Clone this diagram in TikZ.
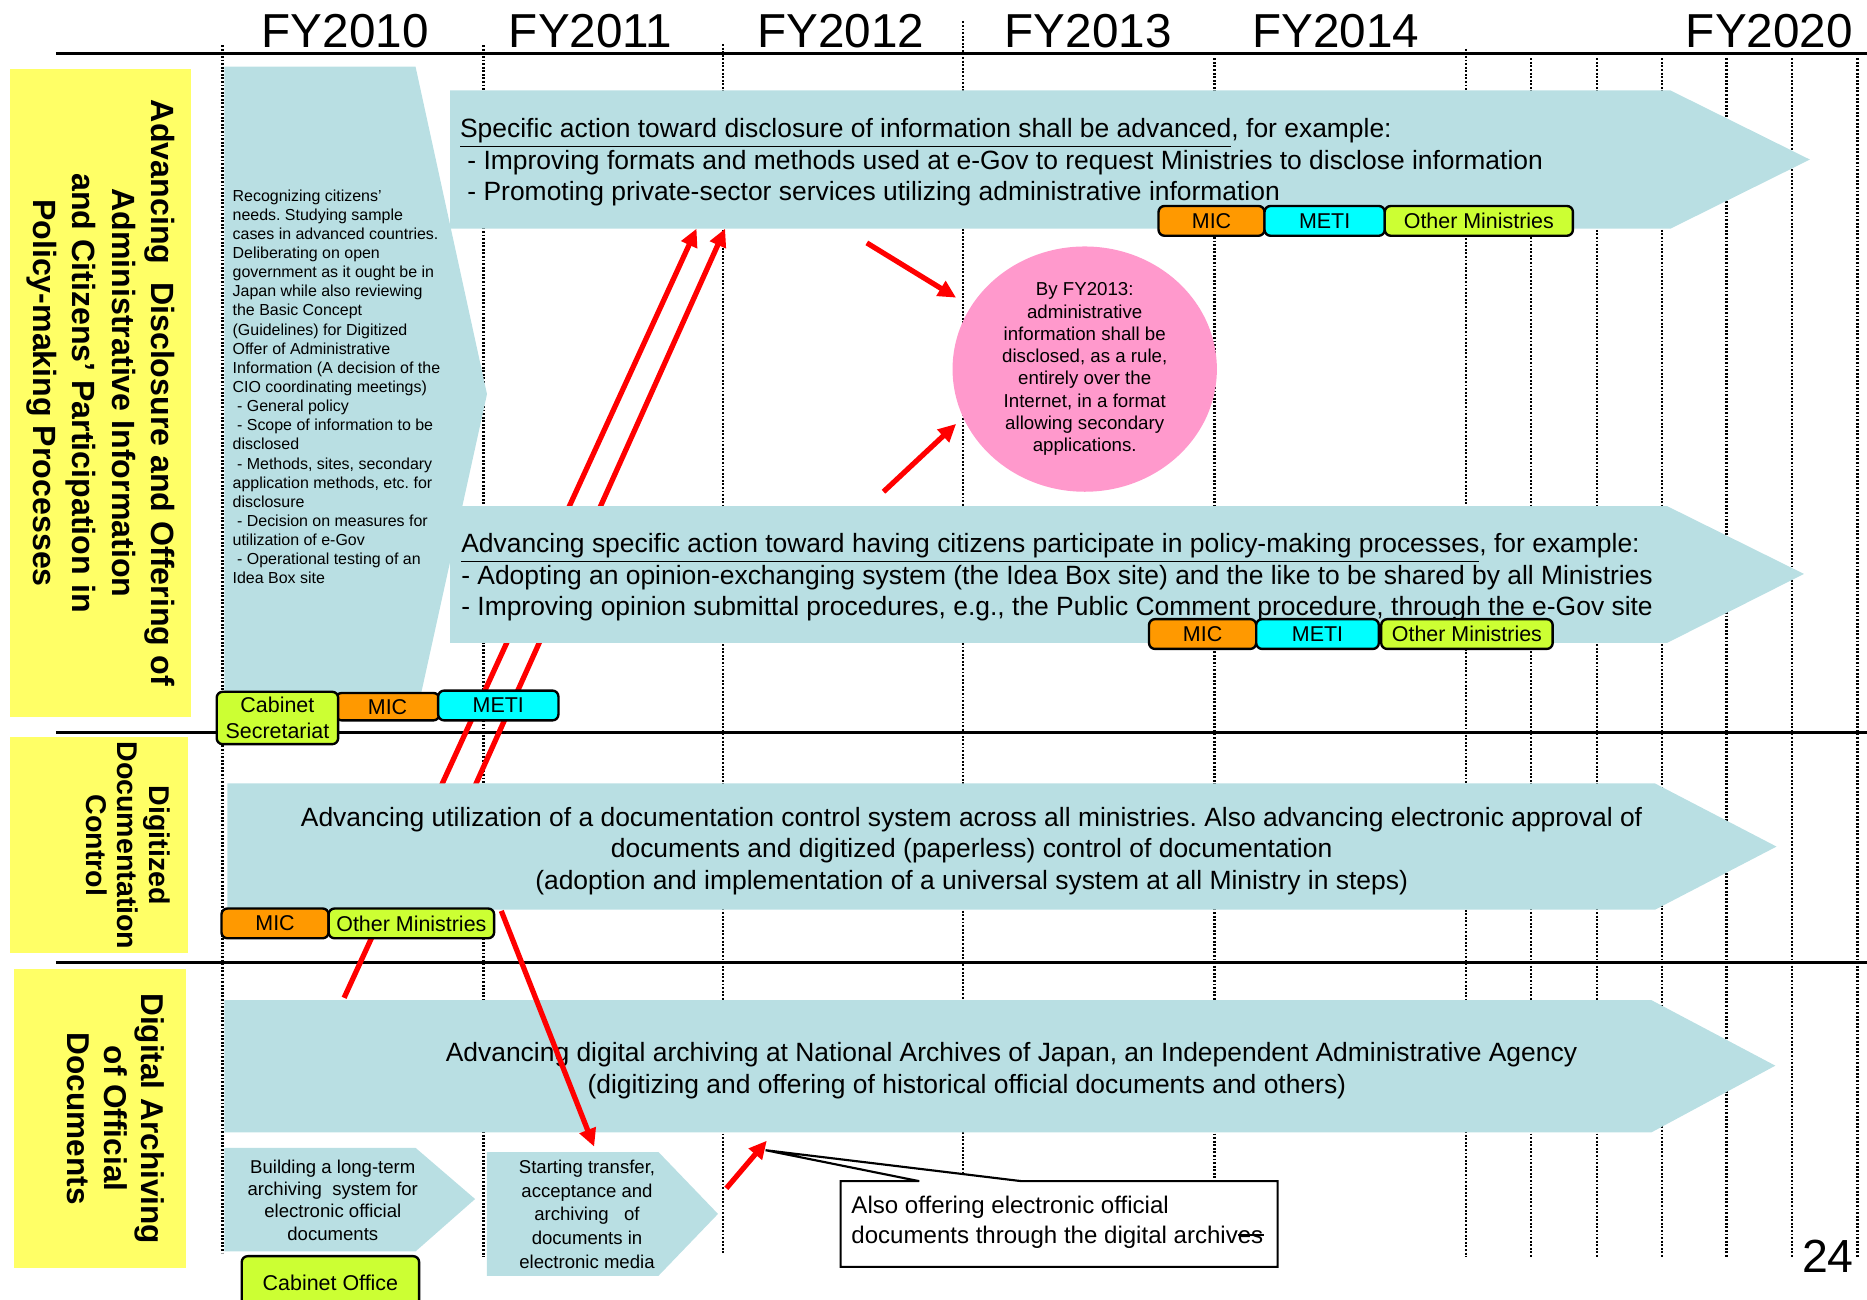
\documentclass[tikz,border=0pt]{standalone}
\usepackage{fontspec}
\setmainfont{Liberation Sans}
\usetikzlibrary{arrows.meta,shapes.geometric}
\frenchspacing

\definecolor{panel}{RGB}{185,223,227}
\definecolor{labelyellow}{RGB}{255,255,102}
\definecolor{tagorange}{RGB}{255,153,0}
\definecolor{tagcyan}{RGB}{0,255,255}
\definecolor{taglime}{RGB}{204,255,51}
\definecolor{bubble}{RGB}{255,153,204}
\definecolor{linkred}{RGB}{255,0,0}

\newcommand\fsz[2]{\fontsize{#1}{#2}\selectfont}

\tikzset{
  grid line/.style={line width=1pt, dash pattern=on 0.8pt off 0.7pt},
  rule line/.style={line width=1.4pt},
  link/.style={draw=linkred, line width=2.2pt, -{Triangle[length=7.5pt,width=7pt]}},
  panel fill/.style={fill=panel},
  block fill/.style={fill=labelyellow},
  tagbox/.style={draw=black, line width=1pt, rounded corners=2.5pt, inner sep=0pt,
    align=center, font=\fsz{9}{11}},
  side title/.style={rotate=-90, align=center, inner sep=0pt, font=\bfseries\fsz{13.5}{16.5}},
  year/.style={anchor=base, inner sep=0pt, font=\fsz{20}{24}},
  panel text/.style={inner sep=0pt, font=\fsz{11.1}{13.25}},
  note text/.style={inner sep=0pt, align=left, anchor=north west, font=\fsz{6.7}{8.04}},
  stage text/.style={inner sep=0pt, align=center, anchor=north, font=\fsz{7.8}{9.4}},
  goal/.style={ellipse, fill=bubble, inner sep=0pt, align=center, minimum width=111pt,
    minimum height=103pt, font=\fsz{7.85}{9.35}},
  callout/.style={draw=black, fill=white, line width=0.9pt},
}

% ministry tag: name, x1, y1, x2, y2, colour, text
\newcommand\mktag[7]{%
  \node[tagbox, fill=#6, minimum width={(#4-#2)*0.5pt}, minimum height={(#5-#3)*0.5pt}]
    (#1) at ({(#2+#4)/2},{(#3+#5)/2}) {#7};}

\begin{document}
\begin{tikzpicture}[x=0.5pt,y=-0.5pt]
\useasboundingbox (0,0) rectangle (1568,1091);
\clip (0,0) rectangle (1568,1091);

% fiscal-year grid
\foreach \gx/\gtop/\gbot in {187/38/1052, 406/38/1056, 607/37/1052, 809/18/1050,
    1020/49/1050, 1231/41/1056, 1286/49/1056, 1341/49/1056, 1396/49/1056,
    1450/49/1056, 1505/49/1056, 1560/49/1056}
  \draw[grid line] (\gx,\gtop) -- (\gx,\gbot);

% section rules
\draw[rule line] (47,45) -- (1568,45);
\draw[rule line] (47,615) -- (1568,615);
\draw[rule line] (47,808.5) -- (1568,808.5);

% year headings
\node[year] (fy10) at (290,40) {FY2010};
\node[year] (fy11) at (496,40) {FY2011};
\node[year] (fy12) at (706,40) {FY2012};
\node[year] (fy13) at (914,40) {FY2013};
\node[year] (fy14) at (1122,40) {FY2014};
\node[year] (fy20) at (1486,40) {FY2020};

% links that run behind the panels
\coordinate (l1s) at (289,838);  \coordinate (l1e) at (585,192);
\coordinate (l2s) at (381,700);  \coordinate (l2e) at (609,192);
\draw[link] (l1s) -- (l1e);
\draw[link] (l2s) -- (l2e);

% side labels
\fill[block fill] (8,58) rectangle (160,602);
\fill[block fill] (8,619) rectangle (158,800);
\fill[block fill] (12,814) rectangle (156,1065);
\node[side title] (title1) at (84.5,330)
  {Advancing\ \ Disclosure and Offering of\\Administrative Information\\and Citizens’ Participation in\\Policy-making Processes};
\node[side title, font=\bfseries\fsz{12}{13.25}] (title2) at (107.5,710)
  {Digitized\\Documentation\\Control};
\node[side title, font=\bfseries\fsz{13.25}{15.5}] (title3) at (97.5,939.5)
  {Digital Archiving\\of Official\\Documents};

% panels
\fill[panel fill] (188.5,56) -- (349,56) -- (409,331) -- (352,590) -- (188.5,590) -- cycle;
\fill[panel fill] (378,76) -- (1403,76) -- (1520,134) -- (1403,192) -- (378,192) -- cycle;
\fill[panel fill] (378,425) -- (1400,425) -- (1515,482) -- (1400,540) -- (378,540) -- cycle;
\fill[panel fill] (191,658) -- (1390,658) -- (1492,711) -- (1390,764) -- (191,764) -- cycle;
\fill[panel fill] (188.5,840) -- (1387,840) -- (1491,895) -- (1387,951) -- (188.5,951) -- cycle;
\fill[panel fill] (188.5,964) -- (349,964) -- (399,1007) -- (349,1051) -- (188.5,1051) -- cycle;
\fill[panel fill] (409,967.5) -- (553,967.5) -- (603,1019.5) -- (553,1071.5) -- (409,1071.5) -- cycle;

% panel texts
\node[note text] (study) at (195,158.7)
  {Recognizing citizens’\\needs. Studying sample\\cases in advanced countries.\\Deliberating on open\\government as it ought be in\\Japan while also reviewing\\the Basic Concept\\(Guidelines) for Digitized\\Offer of Administrative\\Information (A decision of the\\CIO coordinating meetings)\\\hspace*{.28em}- General policy\\\hspace*{.28em}- Scope of information to be\\disclosed\\\hspace*{.28em}- Methods, sites, secondary\\application methods, etc. for\\disclosure\\\hspace*{.28em}- Decision on measures for\\utilization of e-Gov\\\hspace*{.28em}- Operational testing of an\\Idea Box site};

\node[panel text, align=left, anchor=north west] (disclosure) at (386,99)
  {\underline{Specific action toward disclosure of information shall be advanced}, for example:\\\hspace*{.28em}- Improving formats and methods used at e-Gov to request Ministries to disclose information\\\hspace*{.28em}- Promoting private-sector services utilizing administrative information};

\node[panel text, align=left, anchor=north west] (participation) at (387,447.5)
  {\underline{Advancing specific action toward having citizens participate in policy-making processes}, for example:\\- Adopting an opinion-exchanging system (the Idea Box site) and the like to be shared by all Ministries\\- Improving opinion submittal procedures, e.g., the Public Comment procedure, through the e-Gov site};

\node[panel text, align=center, anchor=north] (documents) at (816,677.5)
  {Advancing utilization of a documentation control system across all ministries. Also advancing electronic approval of\\documents and digitized (paperless) control of documentation\\(adoption and implementation of a universal system at all Ministry in steps)};

\node[panel text, anchor=base] (archive1) at (849.5,891.7)
  {Advancing digital archiving at National Archives of Japan, an Independent Administrative Agency};
\node[panel text, anchor=base] (archive2) at (812,918.7)
  {(digitizing and offering of historical official documents and others)};

\node[stage text] (stage1) at (279.5,973.6)
  {Building a long-term\\archiving\ \ system for\\electronic official\\documents};
\node[stage text, font=\fsz{7.8}{10}] (stage2) at (493,973.6)
  {Starting transfer,\\acceptance and\\archiving\ \ \ of\\documents in\\electronic media};

% ministry tags
\mktag{mic1}{973}{173}{1062}{198}{tagorange}{MIC}
\mktag{meti1}{1062}{173}{1163}{198}{tagcyan}{METI}
\mktag{other1}{1163}{173}{1321}{198}{taglime}{Other Ministries}
\mktag{mic2}{965}{520}{1055}{545}{tagorange}{MIC}
\mktag{meti2}{1055}{520}{1158}{545}{tagcyan}{METI}
\mktag{other2}{1160}{520}{1304}{545}{taglime}{Other Ministries}
\mktag{mic3}{282}{582}{369}{605}{tagorange}{MIC}
\mktag{cab3}{182}{581}{284}{625}{taglime}{Cabinet\\Secretariat}
\mktag{meti3}{368}{580}{469}{605}{tagcyan}{METI}
\mktag{mic4}{186}{763}{276}{788}{tagorange}{MIC}
\mktag{other4}{276}{763}{415}{788}{taglime}{Other Ministries}
\mktag{cab5}{203}{1055}{352}{1100}{taglime}{Cabinet Office}

% FY2013 target
\node[goal] (target) at (911,310)
  {By FY2013:\\administrative\\information shall be\\disclosed, as a rule,\\entirely over the\\Internet, in a format\\allowing secondary\\applications.};

% links in front of the panels
\coordinate (a1s) at (728,204);  \coordinate (a1e) at (803,250);
\coordinate (a2s) at (742,413);  \coordinate (a2e) at (803,356);
\coordinate (l4s) at (421,765);  \coordinate (l4e) at (499,963);
\coordinate (l5s) at (610,998);  \coordinate (l5e) at (644,958);
\draw[link] (a1s) -- (a1e);
\draw[link] (a2s) -- (a2e);
\draw[link] (l4s) -- (l4e);
\draw[link] (l5s) -- (l5e);

% callout
\draw[callout] (706,992) -- (772,992) -- (643,966) -- (858,992) -- (1073,992)
  -- (1073,1064) -- (706,1064) -- cycle;
\node[inner sep=0pt, align=left, anchor=north west, font=\fsz{10.1}{12.5}] (alsooffer) at (714.7,1004.3)
  {Also offering electronic official\\documents through the digital archiv\rlap{\rule[0.32em]{1.1em}{0.07em}}es};

% page number
\node[anchor=base west, inner sep=0pt, font=\fsz{19.5}{23}] (page) at (1513,1069) {24};
\end{tikzpicture}
\end{document}
